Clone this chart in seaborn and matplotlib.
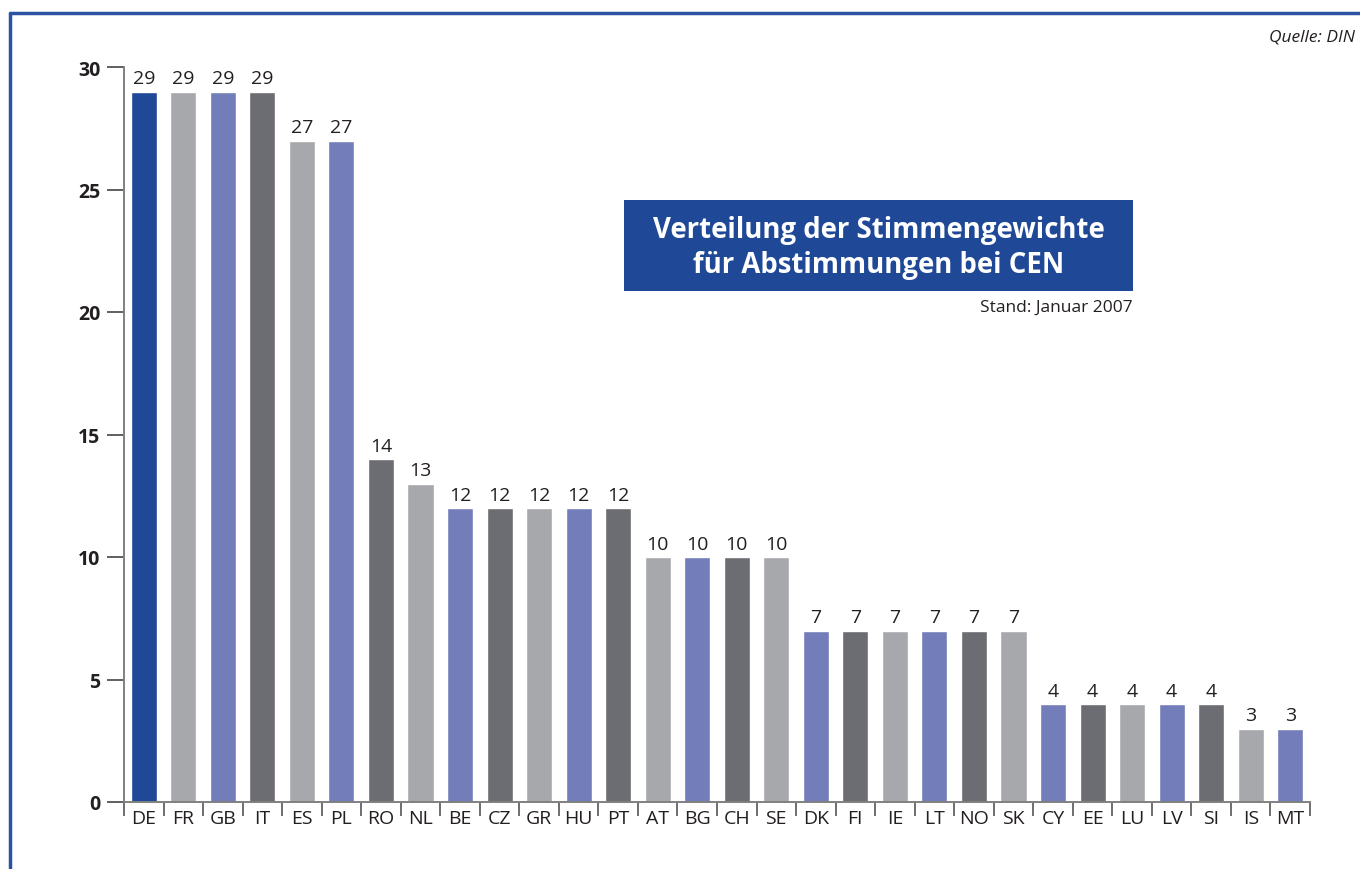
import numpy as np
import matplotlib
matplotlib.use("Agg")
import matplotlib.pyplot as plt
from matplotlib.lines import Line2D
from matplotlib.patches import Rectangle
import seaborn as sns

# -- data ----------------------------------------------------------------------
countries = ["DE", "FR", "GB", "IT", "ES", "PL", "RO", "NL", "BE", "CZ",
             "GR", "HU", "PT", "AT", "BG", "CH", "SE", "DK", "FI", "IE",
             "LT", "NO", "SK", "CY", "EE", "LU", "LV", "SI", "IS", "MT"]
votes = [29, 29, 29, 29, 27, 27, 14, 13, 12, 12,
         12, 12, 12, 10, 10, 10, 10, 7, 7, 7,
         7, 7, 7, 4, 4, 4, 4, 4, 3, 3]
y_ticks = [0, 5, 10, 15, 20, 25, 30]

# -- style ---------------------------------------------------------------------
DARK_BLUE  = "#1F4897"
LIGHT_GRAY = "#A7A8AC"
PURPLE     = "#737DB9"
DARK_GRAY  = "#6C6D72"
cycle = [LIGHT_GRAY, PURPLE, DARK_GRAY]
colors = [DARK_BLUE] + [cycle[i % 3] for i in range(len(countries) - 1)]

sns.set_theme(style="white")
plt.rcParams["font.family"] = ["Open Sans", "DejaVu Sans"]
TXT = "#231F20"
AXC = "#808080"

fig = plt.figure(figsize=(13.6, 8.7), dpi=100, facecolor="white")
ax = fig.add_axes([124 / 1360, 1 - 803 / 870, (1310 - 124) / 1360, (803 - 68) / 870])

sns.barplot(x=countries, y=votes, hue=countries, palette=colors, legend=False,
            width=0.66, saturation=1, ax=ax)
for cont in ax.containers:
    ax.bar_label(cont, padding=3, fontsize=14, color=TXT)

ax.set_xlim(-0.5, len(countries) - 0.5)
ax.set_ylim(0, 30)
ax.set_yticks(y_ticks)
ax.set_yticklabels([str(t) for t in y_ticks], fontweight="bold", fontsize=14, color=TXT)
ax.set_xlabel("")
ax.set_ylabel("")

# category ticks sit between bars
ax.set_xticks(np.arange(len(countries)))
ax.set_xticklabels(countries, fontsize=14, color=TXT)
ax.set_xticks(np.arange(len(countries) + 1) - 0.5, minor=True)
ax.tick_params(axis="x", which="major", length=0, pad=5)
ax.tick_params(axis="x", which="minor", length=10, width=1.2, color="#555555",
               direction="out", bottom=True)
ax.tick_params(axis="y", length=12, width=1.2, color="#444444", direction="out",
               left=True, pad=5)

for s in ["top", "right"]:
    ax.spines[s].set_visible(False)
for s in ["left", "bottom"]:
    ax.spines[s].set_color(AXC)
    ax.spines[s].set_linewidth(1.4)

# title box
fig.add_artist(Rectangle((624 / 1360, 1 - 292 / 870), (1133 - 624) / 1360, 91 / 870,
                         transform=fig.transFigure, facecolor=DARK_BLUE,
                         edgecolor="none"))
fig.text((624 + 1133) / 2 / 1360, 1 - 248 / 870,
         "Verteilung der Stimmengewichte\nfür Abstimmungen bei CEN",
         ha="center", va="center", color="white", fontsize=19.8,
         fontweight="bold", linespacing=1.3)
fig.text(1133 / 1360, 1 - 308 / 870, "Stand: Januar 2007", ha="right",
         va="center", fontsize=12.5, color=TXT)
fig.text(1355 / 1360, 1 - 37 / 870, "Quelle: DIN", ha="right", va="center",
         fontsize=12.5, style="italic", color=TXT)

# frame lines (top and left)
frame_c = "#2B52A3"
fig.add_artist(Line2D([10 / 1360, 1.0], [1 - 14 / 870, 1 - 14 / 870],
                      transform=fig.transFigure, color=frame_c, linewidth=2.5))
fig.add_artist(Line2D([10 / 1360, 10 / 1360], [0, 1 - 14 / 870],
                      transform=fig.transFigure, color=frame_c, linewidth=2.5))

fig.savefig("out.png", dpi=100, facecolor="white")
